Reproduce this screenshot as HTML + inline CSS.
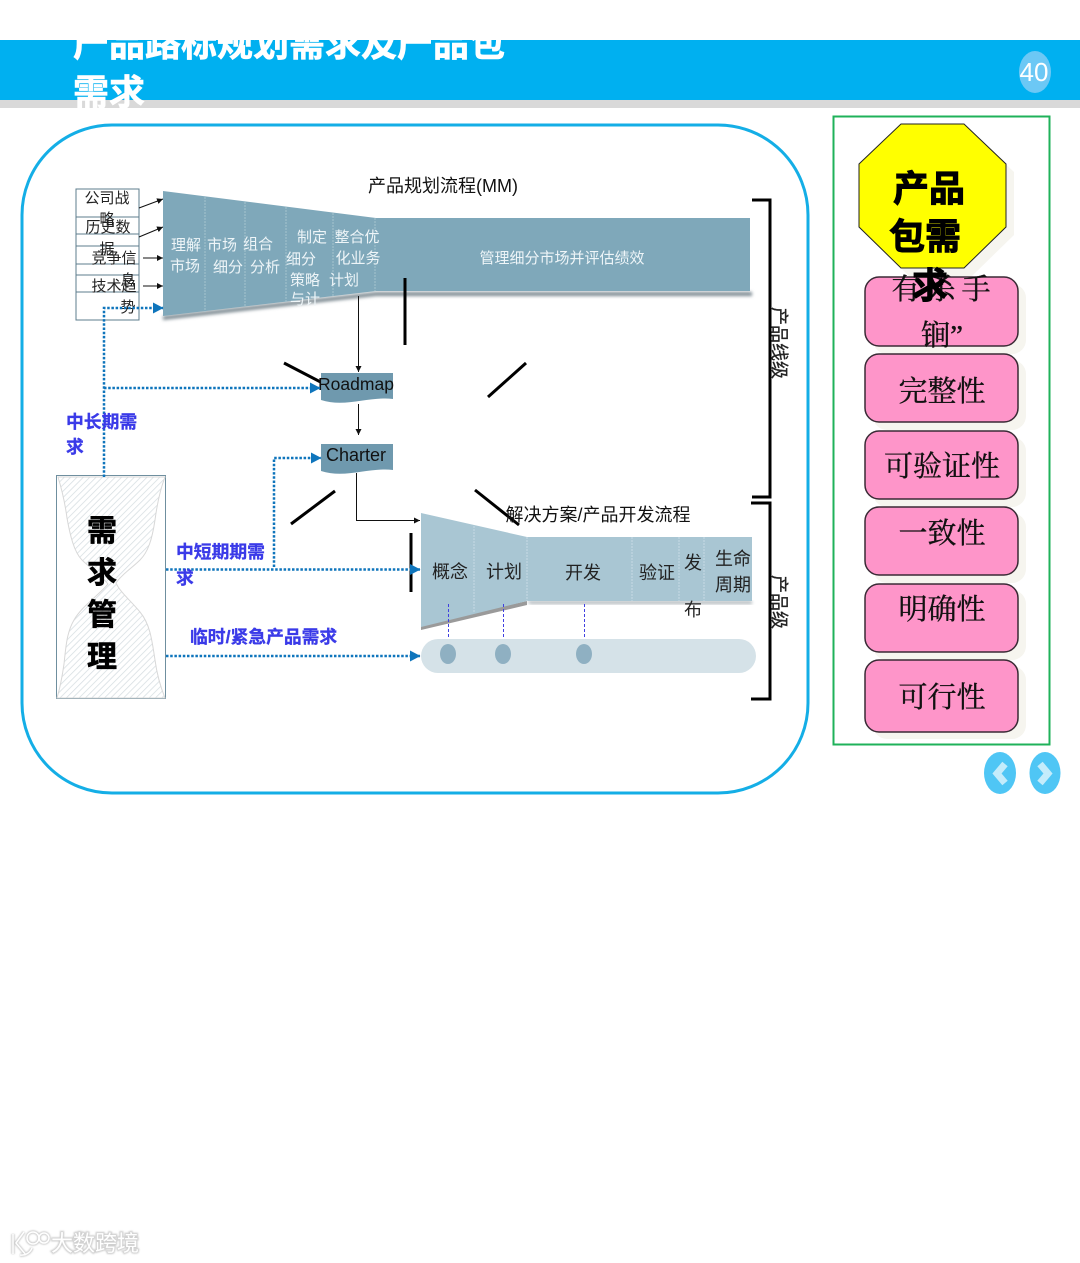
<!DOCTYPE html>
<html><head><meta charset="utf-8"><style>
html,body{margin:0;padding:0;background:#fff;width:1080px;height:1263px;overflow:hidden}
svg{position:absolute;left:0;top:0;display:block}
text{font-family:"Liberation Sans","Noto Sans CJK SC",sans-serif}
.s{font-family:"Liberation Serif","Noto Serif CJK SC",serif;font-size:29px;fill:#111;stroke:#111;stroke-width:.35;text-anchor:middle}
.w{fill:#eef5f8;font-size:15px;text-anchor:middle}
.k{fill:#222;font-size:15px;text-anchor:middle}
.d{fill:#222;font-size:18px;text-anchor:middle}
.b{fill:#3a3ae8;stroke:#3a3ae8;stroke-width:.3;font-size:17.800px;font-weight:700}
.m{fill:#000;stroke:#000;stroke-width:.6;font-size:30px;font-weight:700;text-anchor:middle}
.y{fill:#000;stroke:#000;stroke-width:1;font-size:36px;font-weight:700;text-anchor:middle}
.p{fill:#fe95c9;stroke:#3a2a35;stroke-width:1.500}
</style></head><body>
<svg width="1080" height="1263" viewBox="0 0 1080 1263" xmlns="http://www.w3.org/2000/svg">
<defs>
<pattern id="h" width="4.500" height="4.500" patternUnits="userSpaceOnUse" patternTransform="rotate(45)"><rect width="4.500" height="4.500" fill="#fff"/><line x1="0" y1="0" x2="0" y2="4.500" stroke="#d5dde1" stroke-width="1.500"/></pattern>
<marker id="a" markerWidth="7" markerHeight="7" refX="6" refY="3" orient="auto"><path d="M0 0L6 3L0 6z" fill="#111"/></marker>
<marker id="t" markerWidth="4.500" markerHeight="4.500" refX="4" refY="2.200" orient="auto"><path d="M0 0L4.200 2.200L0 4.400z" fill="#0f75bc"/></marker>
<filter id="bl" x="-5%" y="-30%" width="110%" height="160%"><feGaussianBlur stdDeviation="1.500"/></filter>
<filter id="wm" x="-10%" y="-30%" width="120%" height="160%"><feGaussianBlur stdDeviation="0.800"/></filter>
</defs>
<rect x="0" y="40" width="1080" height="60" fill="#00b0f0"/>
<rect x="0" y="100" width="1080" height="8" fill="#d9d9d9"/>
<g fill="#fff" stroke="#fff" stroke-width=".6" font-size="36" font-weight="700">
<text x="73" y="56">产品路标规划需求及产品包</text>
<text x="73" y="105">需求</text>
</g>
<rect x="0" y="0" width="1080" height="40" fill="#fff"/>
<ellipse cx="1035" cy="72" rx="16" ry="21" fill="#6cc8f5"/>
<text x="1034" y="81" fill="#fff" font-size="26" text-anchor="middle">40</text>

<rect x="22" y="125" width="786" height="668" rx="90" fill="#fff" stroke="#14aee6" stroke-width="3"/>

<!-- left boxes -->
<g fill="#fff" stroke="#5d7c8c" stroke-width="1">
<rect x="76" y="189" width="63" height="131"/>
<line x1="76" y1="217" x2="139" y2="217"/><line x1="76" y1="234" x2="139" y2="234"/><line x1="76" y1="246" x2="139" y2="246"/><line x1="76" y1="264" x2="139" y2="264"/><line x1="76" y1="275" x2="139" y2="275"/><line x1="76" y1="292" x2="139" y2="292"/>
</g>
<text class="k" x="107" y="203">公司战</text><text class="k" x="107" y="224">略</text>
<text class="k" x="108" y="232">历史数</text><text class="k" x="107" y="254">据</text>
<text class="k" x="114" y="263">竞争信</text><text class="k" x="128" y="285">息</text>
<text class="k" x="114" y="291">技术趋</text><text class="k" x="128" y="312">势</text>
<g stroke="#111" stroke-width="1" fill="none">
<line x1="139" y1="208" x2="163" y2="199" marker-end="url(#a)"/>
<line x1="139" y1="237" x2="163" y2="227" marker-end="url(#a)"/>
<line x1="143" y1="258" x2="163" y2="258" marker-end="url(#a)"/>
<line x1="143" y1="286" x2="163" y2="286" marker-end="url(#a)"/>
</g>

<!-- top funnel -->
<path d="M163 320L376 296H752V292H376L163 316z" fill="#7d8a92" filter="url(#bl)"/>
<path d="M163 191L376 218H750V291H376L163 316z" fill="#7fa8ba"/>
<g stroke="#a5c3cf" stroke-width="1" stroke-dasharray="2 1">
<line x1="205" y1="197" x2="205" y2="312"/><line x1="245" y1="202" x2="245" y2="307"/><line x1="286" y1="207" x2="286" y2="302"/><line x1="333" y1="213" x2="333" y2="296"/><line x1="375" y1="218" x2="375" y2="291"/>
</g>
<text class="w" x="186" y="250">理解</text><text class="w" x="185" y="271">市场</text>
<text class="w" x="222" y="250">市场</text><text class="w" x="228" y="272">细分</text>
<text class="w" x="258" y="249">组合</text><text class="w" x="265" y="272">分析</text>
<text class="w" x="312" y="242">制定</text><text class="w" x="301" y="264">细分</text><text class="w" x="305" y="285">策略</text><text class="w" x="305" y="304">与计</text>
<text class="w" x="357" y="242">整合优</text><text class="w" x="358" y="263">化业务</text><text class="w" x="344" y="285">计划</text>
<text class="w" x="562" y="263">管理细分市场并评估绩效</text>
<text x="443" y="192" fill="#111" font-size="18" text-anchor="middle">产品规划流程(MM)</text>

<!-- decorative strokes -->
<g stroke="#000" stroke-width="3" fill="none">
<line x1="405" y1="278" x2="405" y2="345"/>
<line x1="284" y1="363" x2="334" y2="389"/>
<line x1="526" y1="363" x2="488" y2="397"/>
<line x1="335" y1="491" x2="291" y2="524"/>
<line x1="475" y1="490" x2="519" y2="525"/>
<line x1="411" y1="533" x2="411" y2="592"/>
</g>

<!-- brackets -->
<g stroke="#000" stroke-width="3" fill="none">
<path d="M752 200H770V497H752"/>
<path d="M751 503H770V699H751"/>
</g>
<text transform="translate(773,307) rotate(90)" fill="#222" stroke="#222" stroke-width=".3" font-size="18">产品线级</text>
<text transform="translate(773,575) rotate(90)" fill="#222" stroke="#222" stroke-width=".3" font-size="18">产品级</text>

<!-- flow -->
<g stroke="#111" stroke-width="1" fill="none">
<line x1="358.500" y1="296" x2="358.500" y2="372" marker-end="url(#a)"/>
<line x1="358.500" y1="404" x2="358.500" y2="435" marker-end="url(#a)"/>
<path d="M356.500 473V520.500H420" marker-end="url(#a)"/>
</g>
<path d="M321 373H393V399C370 396 345 408 321 400z" fill="#6f99ae"/>
<path d="M321 444H393V470C370 467 345 479 321 471z" fill="#6f99ae"/>
<text x="356" y="390" fill="#111" font-size="17.500" text-anchor="middle">Roadmap</text>
<text x="356" y="461" fill="#111" font-size="18" text-anchor="middle">Charter</text>

<!-- bottom funnel -->
<path d="M421 630L527 605V601L421 625z" fill="#9a9a9a"/>
<path d="M527 601H752V604H530z" fill="#aab2b7" filter="url(#bl)"/>
<path d="M421 513L527 537H752V601H527L421 627z" fill="#a9c6d3"/>
<g stroke="#c6dbe4" stroke-width="1" stroke-dasharray="2 1">
<line x1="474" y1="526" x2="474" y2="612"/><line x1="527" y1="537" x2="527" y2="601"/><line x1="632" y1="537" x2="632" y2="601"/><line x1="679" y1="537" x2="679" y2="601"/><line x1="704" y1="537" x2="704" y2="601"/>
</g>
<text x="598" y="521" fill="#111" font-size="18" text-anchor="middle">解决方案/产品开发流程</text>
<text class="d" x="450" y="578">概念</text><text class="d" x="504" y="578">计划</text><text class="d" x="583" y="579">开发</text><text class="d" x="657" y="579">验证</text>
<text class="d" x="693" y="569">发</text><text class="d" x="693" y="616">布</text>
<text class="d" x="733" y="565">生命</text><text class="d" x="733" y="591">周期</text>
<rect x="421" y="639" width="335" height="34" rx="17" fill="#d5e2e8"/>
<g fill="#8fb0c2"><ellipse cx="448" cy="654" rx="8" ry="10"/><ellipse cx="503" cy="654" rx="8" ry="10"/><ellipse cx="584" cy="654" rx="8" ry="10"/></g>
<g stroke="#4040e0" stroke-width="1" stroke-dasharray="3 2"><line x1="448.500" y1="604" x2="448.500" y2="639"/><line x1="503.500" y1="604" x2="503.500" y2="639"/><line x1="584.500" y1="604" x2="584.500" y2="639"/></g>

<!-- need management -->
<rect x="56.500" y="475.500" width="109" height="223" fill="#fff" stroke="#6f8f9f" stroke-width="1"/>
<path d="M58 477H165C160 490 157 505 155 520C152 540 148 552 140 560C132 568 122 574 116 583C120 592 130 600 140 612C150 624 152 640 155 660C157 675 161 688 165 698H57C60 688 62 678 64 664C66 645 67 632 74 620C82 606 98 596 108 584C100 574 90 568 82 560C74 552 70 535 67 518C65 503 62 490 58 477z" fill="url(#h)" stroke="#d8d8d8" stroke-width="1"/>
<text class="m" x="102" y="541">需</text><text class="m" x="102" y="583">求</text><text class="m" x="102" y="625">管</text><text class="m" x="102" y="667">理</text>

<!-- dotted -->
<g stroke="#0f75bc" stroke-width="2.500" stroke-dasharray="2.500 1.700" fill="none">
<path d="M104 477V308H163" marker-end="url(#t)"/>
<path d="M104 388H320" marker-end="url(#t)"/>
<path d="M166 569.500H420" marker-end="url(#t)"/>
<path d="M274 567V458H321" marker-end="url(#t)"/>
<path d="M166 656H420" marker-end="url(#t)"/>
</g>
<text class="b" x="66" y="428">中长期需</text><text class="b" x="66" y="453">求</text>
<text class="b" x="176" y="558">中短期期需</text><text class="b" x="176" y="584">求</text>
<text class="b" x="190" y="643">临时/紧急产品需求</text>

<!-- right panel -->
<rect x="833.500" y="116.500" width="216" height="628" fill="#fff" stroke="#1fb25a" stroke-width="2"/>
<g fill="#f6f5ef">
<rect x="873" y="284" width="153" height="70" rx="14"/><rect x="873" y="360" width="153" height="70" rx="14"/><rect x="873" y="437" width="153" height="70" rx="14"/><rect x="873" y="513" width="153" height="70" rx="14"/><rect x="873" y="590" width="153" height="70" rx="14"/><rect x="873" y="666" width="153" height="73" rx="14"/>
<polygon points="909,132 972,132 1014,172 1014,235 972,276 909,276 867,235 867,172"/>
</g>
<polygon points="901,124 964,124 1006,164 1006,227 964,268 901,268 859,227 859,164" fill="#ff0" stroke="#222" stroke-width="1"/>
<rect class="p" x="865" y="277" width="153" height="69" rx="14"/>
<rect class="p" x="865" y="354" width="153" height="68" rx="14"/>
<rect class="p" x="865" y="431" width="153" height="68" rx="14"/>
<rect class="p" x="865" y="507" width="153" height="68" rx="14"/>
<rect class="p" x="865" y="584" width="153" height="68" rx="14"/>
<rect class="p" x="865" y="660" width="153" height="72" rx="14"/>
<text class="s" x="944" y="299" style="letter-spacing:6px">有杀手</text>
<text class="s" x="942" y="345">锏”</text>
<text class="s" x="942" y="401">完整性</text>
<text class="s" x="942" y="476">可验证性</text>
<text class="s" x="942" y="543">一致性</text>
<text class="s" x="942" y="619">明确性</text>
<text class="s" x="942" y="707">可行性</text>
<text class="y" x="929" y="201">产品</text>
<text class="y" x="925" y="249">包需</text>
<text class="y" x="930" y="298">求</text>

<!-- nav -->
<ellipse cx="1000" cy="773" rx="16" ry="21" fill="#4fc6f5"/>
<ellipse cx="1045" cy="773" rx="15.500" ry="21" fill="#4fc6f5"/>
<path d="M1005 764L997 773.500L1005 783" stroke="#c4ecfb" stroke-width="7" fill="none"/>
<path d="M1040 764L1048 773.500L1040 783" stroke="#c4ecfb" stroke-width="7" fill="none"/>

<!-- watermark -->
<g fill="none" stroke="#cfcfcf" stroke-width="3.500" filter="url(#wm)">
<path d="M13 1234V1254M24 1232L16 1243L26 1255"/>
<circle cx="33" cy="1238" r="6"/><circle cx="44" cy="1238" r="5"/>
<path d="M32 1248A11 11 0 0 1 20 1255"/>
</g>
<g fill="none" stroke="#fff" stroke-width="1.500">
<path d="M13 1234V1254M24 1232L16 1243L26 1255"/>
<circle cx="33" cy="1238" r="6"/><circle cx="44" cy="1238" r="5"/>
<path d="M32 1248A11 11 0 0 1 20 1255"/>
</g>
<text x="51" y="1251" fill="#cfcfcf" stroke="#cfcfcf" stroke-width="2.500" font-size="22" filter="url(#wm)">大数跨境</text>
<text x="51" y="1251" fill="#fff" font-size="22">大数跨境</text>
</svg>
</body></html>
